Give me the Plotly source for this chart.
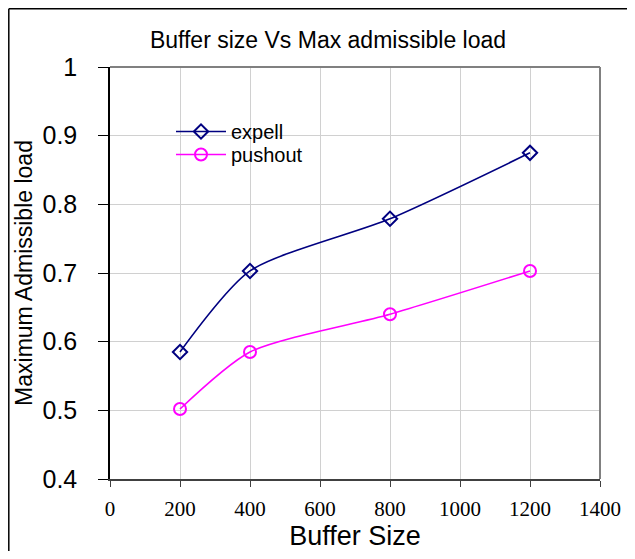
import plotly.graph_objects as go

buffer_sizes = [200, 400, 800, 1200]
expell = [0.585, 0.703, 0.779, 0.875]
pushout = [0.502, 0.585, 0.640, 0.703]
x_ticks = [0, 200, 400, 600, 800, 1000, 1200, 1400]
y_ticks = [0.4, 0.5, 0.6, 0.7, 0.8, 0.9, 1.0]
y_labels = ["0.4", "0.5", "0.6", "0.7", "0.8", "0.9", "1"]

# page offset (browser body margin) is 8px
OFF = 8
W, H = 619, 543
PL, PR, PT, PB = 110, 600, 67, 479  # plot area in page pixels
L = PL - OFF
T = PT - OFF
R = OFF + W - PR
B = OFF + H - PB
pw, ph = PR - PL, PB - PT

def px_x(p):
    return (p - PL) / pw

def px_y(p):
    return (PB - p) / ph

fig = go.Figure()
fig.add_trace(go.Scatter(
    x=buffer_sizes, y=expell, name="expell", mode="lines+markers", legend="legend",
    line=dict(color="#000080", width=1.6, shape="spline", smoothing=0.7),
    marker=dict(symbol="diamond-open", size=11, color="#000080", line=dict(width=2)),
))
fig.add_trace(go.Scatter(
    x=buffer_sizes, y=pushout, name="pushout", mode="lines+markers", legend="legend2",
    line=dict(color="#FF00FF", width=1.6, shape="spline", smoothing=0.7),
    marker=dict(symbol="circle-open", size=12, color="#FF00FF", line=dict(width=2)),
))

leg_common = dict(xanchor="left", yanchor="top", bgcolor="rgba(255,255,255,0)", borderwidth=0,
                  font=dict(size=20, family="Liberation Sans, Arial"), itemwidth=50)

fig.update_layout(
    width=W, height=H,
    margin=dict(l=L, r=R, t=T, b=B, autoexpand=False),
    paper_bgcolor="white", plot_bgcolor="white",
    font=dict(family="Liberation Sans, Arial", color="black"),
    title=dict(text="Buffer size Vs Max admissible load",
               xref="container", x=(328 - OFF) / W, xanchor="center",
               yref="container", y=1 - (40 - OFF) / H, yanchor="middle",
               font=dict(size=23, family="Liberation Sans, Arial")),
    showlegend=True,
    legend=dict(x=px_x(171), y=px_y(112), **leg_common),
    legend2=dict(x=px_x(171), y=px_y(135), **leg_common),
    xaxis=dict(range=[0, 1400], tickvals=x_ticks, ticktext=[str(v) for v in x_ticks],
               automargin=False,
               showgrid=True, gridcolor="#D0D0D0", gridwidth=1,
               showline=True, linecolor="#404040", linewidth=2, mirror=False,
               ticks="outside", ticklen=6, tickcolor="#404040", ticklabelstandoff=4,
               tickfont=dict(family="Liberation Serif, Times New Roman", size=21),
               title=dict(text="Buffer Size", font=dict(size=27, family="Liberation Sans, Arial"), standoff=10),
               zeroline=False),
    yaxis=dict(range=[0.4, 1.0], tickvals=y_ticks, ticktext=y_labels,
               automargin=False,
               showgrid=True, gridcolor="#D0D0D0", gridwidth=1,
               showline=True, linecolor="black", linewidth=1.5,
               ticks="outside", ticklen=10, tickcolor="black", ticklabelstandoff=16,
               tickfont=dict(size=25, family="Liberation Sans, Arial"),
               title=dict(text="Maximum Admissible load", font=dict(size=23, family="Liberation Sans, Arial"), standoff=3),
               zeroline=False),
)

# plot area frame (top and right, grey)
fig.add_shape(type="line", xref="paper", yref="paper", x0=0, x1=1, y0=1, y1=1,
              line=dict(color="#808080", width=2))
fig.add_shape(type="line", xref="paper", yref="paper", x0=1, x1=1, y0=0, y1=1,
              line=dict(color="#808080", width=2))
# outer chart border (top and left)
fig.add_shape(type="line", xref="paper", yref="paper", x0=px_x(8.8), x1=px_x(660),
              y0=px_y(8.8), y1=px_y(8.8), line=dict(color="black", width=1.5))
fig.add_shape(type="line", xref="paper", yref="paper", x0=px_x(8.8), x1=px_x(8.8),
              y0=px_y(8.8), y1=px_y(600), line=dict(color="black", width=1.5))

fig.write_html("out.html")
